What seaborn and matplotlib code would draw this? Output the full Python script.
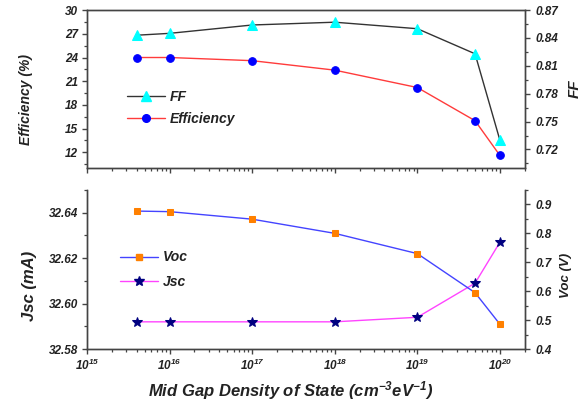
import matplotlib
matplotlib.use("Agg")
import matplotlib.pyplot as plt
import matplotlib.ticker as mticker
from matplotlib.lines import Line2D
import numpy as np
import pandas as pd
import seaborn as sns

# Mid-gap density of states (cm^-3 eV^-1)
density = [4e15, 1e16, 1e17, 1e18, 1e19, 5e19, 1e20]

# Cell performance parameters
efficiency = [24.0, 24.0, 23.6, 22.4, 20.2, 16.0, 11.6]        # %
fill_factor = [0.843, 0.845, 0.854, 0.857, 0.850, 0.823, 0.730]
voc = [0.877, 0.875, 0.849, 0.800, 0.730, 0.595, 0.486]          # V
jsc = [32.592, 32.592, 32.592, 32.592, 32.594, 32.609, 32.627]   # mA

decade_ticks = [1e15, 1e16, 1e17, 1e18, 1e19, 1e20]
decade_labels = ["10$^{15}$", "10$^{16}$", "10$^{17}$", "10$^{18}$", "10$^{19}$", "10$^{20}$"]

df = pd.DataFrame({"density": density, "efficiency": efficiency, "ff": fill_factor,
                   "voc": voc, "jsc": jsc})

sns.set_theme(style="ticks")
plt.rcParams.update({
    "font.family": ["Liberation Sans", "DejaVu Sans"],
    "font.weight": "bold",
    "font.style": "italic",
    "mathtext.fontset": "custom",
    "mathtext.rm": "Liberation Sans:italic:bold",
    "mathtext.it": "Liberation Sans:italic:bold",
    "mathtext.bf": "Liberation Sans:italic:bold",
    "axes.edgecolor": "#444444",
    "axes.linewidth": 1.0,
    "xtick.color": "#444444",
    "ytick.color": "#444444",
    "xtick.labelcolor": "#222222",
    "ytick.labelcolor": "#222222",
    "xtick.direction": "out",
    "ytick.direction": "out",
    "xtick.major.size": 3.5,
    "ytick.major.size": 3.5,
    "xtick.minor.size": 2.0,
    "ytick.minor.size": 2.0,
    "xtick.major.width": 1.0,
    "ytick.major.width": 1.0,
    "xtick.minor.width": 0.9,
    "ytick.minor.width": 0.9,
})

fig = plt.figure(figsize=(5.86, 4.05), dpi=100)
ax_top = fig.add_axes([0.1485, 0.585, 0.747, 0.390])
ax_bot = fig.add_axes([0.1485, 0.138, 0.747, 0.393])
ax_top_r = ax_top.twinx()
ax_bot_r = ax_bot.twinx()

tick_size = 8.5

def label_font(size):
    return dict(fontsize=size, fontweight="bold", fontstyle="italic", color="#222222")

# Top panel: efficiency (left axis) and fill factor (right axis)
sns.lineplot(data=df, x="density", y="efficiency", ax=ax_top, color="#ff3b3b", lw=1.0,
             marker="o", markersize=5.5, markerfacecolor="#0000ff",
             markeredgecolor="#0000ff", legend=False)
sns.lineplot(data=df, x="density", y="ff", ax=ax_top_r, color="#333333", lw=1.0,
             marker="^", markersize=6.5, markerfacecolor="#00ffff",
             markeredgecolor="#00ffff", legend=False)

# Bottom panel: Jsc (left axis) and Voc (right axis)
sns.lineplot(data=df, x="density", y="jsc", ax=ax_bot, color="#ff44ff", lw=1.0,
             marker="*", markersize=7.5, markerfacecolor="#000080",
             markeredgecolor="#000080", legend=False)
sns.lineplot(data=df, x="density", y="voc", ax=ax_bot_r, color="#4444ff", lw=1.0,
             marker="s", markersize=5, markerfacecolor="#ff8000",
             markeredgecolor="#ff8000", legend=False)

for ax in (ax_top, ax_bot):
    ax.set_xscale("log")
    ax.set_xticks(decade_ticks)
    ax.xaxis.set_minor_locator(mticker.LogLocator(base=10, subs=np.arange(2, 10), numticks=12))
    ax.xaxis.set_minor_formatter(mticker.NullFormatter())
    ax.set_xlim(1e15, 2e20)

ax_top.set_xticklabels([])
ax_bot.set_xticklabels(decade_labels, fontsize=tick_size, fontweight="bold", fontstyle="italic")

# y scales
ax_top.set_ylim(10, 30)
ax_top.set_yticks([12, 15, 18, 21, 24, 27, 30])
ax_top.yaxis.set_minor_locator(mticker.MultipleLocator(1.5))
ax_top_r.set_ylim(0.70, 0.87)
ax_top_r.set_yticks([0.72, 0.75, 0.78, 0.81, 0.84, 0.87])
ax_top_r.yaxis.set_minor_locator(mticker.MultipleLocator(0.015))
ax_top_r.yaxis.set_major_formatter(mticker.FormatStrFormatter("%.2f"))

ax_bot.set_ylim(32.58, 32.65)
ax_bot.set_yticks([32.58, 32.60, 32.62, 32.64])
ax_bot.yaxis.set_minor_locator(mticker.MultipleLocator(0.01))
ax_bot.yaxis.set_major_formatter(mticker.FormatStrFormatter("%.2f"))
ax_bot_r.set_ylim(0.4, 0.95)
ax_bot_r.set_yticks([0.4, 0.5, 0.6, 0.7, 0.8, 0.9])
ax_bot_r.yaxis.set_minor_locator(mticker.MultipleLocator(0.05))
ax_bot_r.yaxis.set_major_formatter(mticker.FormatStrFormatter("%.1f"))

for ax in (ax_top, ax_top_r, ax_bot, ax_bot_r):
    for lab in ax.get_yticklabels():
        lab.set_fontsize(tick_size)
        lab.set_fontweight("bold")
        lab.set_fontstyle("italic")
    ax.set_xlabel("")
    ax.set_ylabel("")
for ax in (ax_top, ax_bot):
    ax.tick_params(axis="y", which="both", pad=3.0)
for ax in (ax_top_r, ax_bot_r):
    ax.tick_params(axis="y", which="both", pad=4.2)
ax_bot.tick_params(axis="x", which="both", pad=3)

# spines: top panel boxed, bottom panel open at the top
ax_bot.spines["top"].set_visible(False)
ax_bot_r.spines["top"].set_visible(False)

# axis labels
ax_top.set_ylabel("Efficiency (%)", **label_font(10))
ax_top.yaxis.set_label_coords(-0.123, 0.437)
ax_top_r.set_ylabel("FF", **label_font(11))
ax_top_r.yaxis.set_label_coords(1.098, 0.5)
ax_bot.set_ylabel("Jsc (mA)", **label_font(12))
ax_bot.yaxis.set_label_coords(-0.114, 0.40)
ax_bot_r.set_ylabel("Voc (V)", **label_font(9.5))
ax_bot_r.yaxis.set_label_coords(1.08, 0.46)
ax_bot.set_xlabel("Mid Gap Density of State (cm$^{-3}$eV$^{-1}$)", **label_font(12))
ax_bot.xaxis.set_label_coords(0.466, -0.19)

# legends built from the line styles of both axes
def legend_kw(spacing):
    return dict(frameon=False, handlelength=2.75, handletextpad=0.35, labelspacing=spacing,
                prop=dict(size=10, weight="bold", style="italic"), borderaxespad=0)

top_handles = [
    Line2D([], [], color="#333333", lw=1.0, marker="^", markersize=6.5,
           markerfacecolor="#00ffff", markeredgecolor="#00ffff"),
    Line2D([], [], color="#ff3b3b", lw=1.0, marker="o", markersize=5.5,
           markerfacecolor="#0000ff", markeredgecolor="#0000ff"),
]
leg = ax_top_r.legend(top_handles, ["FF", "Efficiency"], loc="upper left",
                      bbox_to_anchor=(0.079, 0.53), **legend_kw(0.55))
for t in leg.get_texts():
    t.set_color("#222222")

bot_handles = [
    Line2D([], [], color="#4444ff", lw=1.0, marker="s", markersize=5,
           markerfacecolor="#ff8000", markeredgecolor="#ff8000"),
    Line2D([], [], color="#ff44ff", lw=1.0, marker="*", markersize=7,
           markerfacecolor="#000080", markeredgecolor="#000080"),
]
leg2 = ax_bot_r.legend(bot_handles, ["Voc", "Jsc"], loc="upper left",
                       bbox_to_anchor=(0.063, 0.655), **legend_kw(0.75))
for t in leg2.get_texts():
    t.set_color("#222222")

fig.savefig("out.png", dpi=100)
